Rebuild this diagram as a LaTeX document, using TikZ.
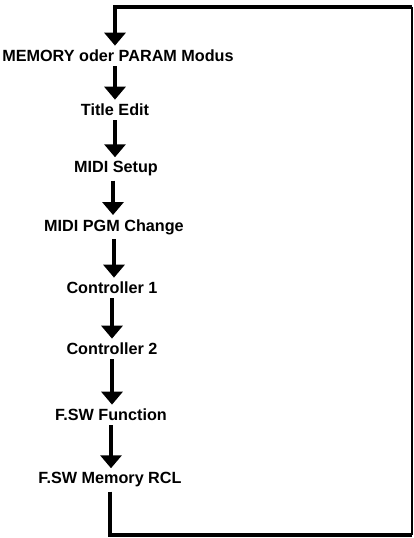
\documentclass[tikz,border=0pt]{standalone}
\usepackage{fontspec}
\setmainfont{Liberation Sans}
\usetikzlibrary{arrows.meta}

\begin{document}
\begin{tikzpicture}[x=0.5pt, y=-0.5pt,
  every node/.style={inner xsep=0pt, inner ysep=2pt, font=\fontsize{8.1}{9}\selectfont\bfseries},
  flow/.style={line width=2pt, -{Triangle[width=10.5pt,length=6.5pt]}},
  loopline/.style={line width=2.2pt},
  sideline/.style={line width=1pt}]
\useasboundingbox (0,0) rectangle (414,538);
% --- Menu steps ---
\node (mem) at (118,56) {MEMORY oder PARAM Modus};
\node (title) at (115,110) {Title Edit};
\node (setup) at (116,169) {MIDI Setup};
\node (pgm) at (114,227) {MIDI PGM Change};
\node (ctl1) at (112,288) {Controller 1};
\node (ctl2) at (112,349) {Controller 2};
\node (fswf) at (111,415) {F.SW Function};
\node (rcl) at (110,480) {F.SW Memory RCL};
% --- Loop corners ---
\coordinate (cbr) at (412,535);
\coordinate (ctr) at (412,7);
\coordinate (ctl) at (115,7);
%
% --- Arrows ---
\draw[flow] ([xshift=-1.5pt]mem.south) -- ([xshift=-1.5pt]mem.south |- title.north);
\draw[flow] (title.south) -- (title.south |- setup.north);
\draw[flow] ([xshift=-1.5pt]setup.south) -- ([xshift=-1.5pt]setup.south |- pgm.north);
\draw[flow] (pgm.south) -- (pgm.south |- ctl1.north);
\draw[flow] (ctl1.south) -- (ctl1.south |- ctl2.north);
\draw[flow] (ctl2.south) -- (ctl2.south |- fswf.north);
\draw[flow] (fswf.south) -- (fswf.south |- rcl.north);
%
% --- Return loop ---
\draw[loopline] (rcl.south) |- (cbr);
\draw[sideline] (cbr) -- (ctr);
\draw[flow, line width=2.4pt] (ctr) -- (ctl) -- (ctl |- mem.north);
%
\end{tikzpicture}
\end{document}
